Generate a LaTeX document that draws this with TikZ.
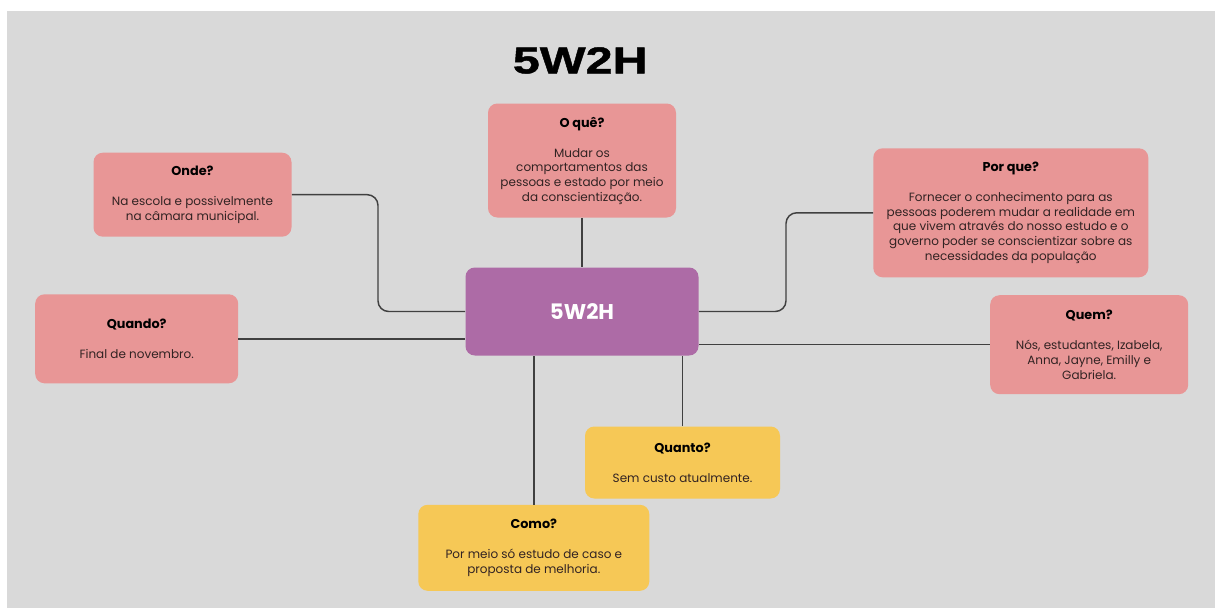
\documentclass[tikz,border=0pt]{standalone}
\usepackage{fontspec}
\setmainfont{Poppins}
\newfontfamily\titlefont[FakeStretch=1.3,FakeBold=1.2]{Liberation Sans}
\usepackage{xcolor}
\definecolor{canvasgray}{RGB}{217,217,217}
\definecolor{cardpink}{RGB}{232,150,150}
\definecolor{cardyellow}{RGB}{246,200,86}
\definecolor{hubpurple}{RGB}{173,107,166}
\definecolor{linkgray}{RGB}{64,64,64}
\definecolor{bodyink}{RGB}{50,35,35}
\newcommand{\cardhead}[1]{{\color{black}\bfseries\fontsize{9.6}{11}\selectfont #1}}

\begin{document}
\begin{tikzpicture}[x=0.75pt,y=0.75pt,yscale=-1,xscale=1,
  card/.style={rounded corners=7pt,inner sep=0pt,align=center,text=bodyink,
    font=\fontsize{9}{11}\selectfont},
  pinkcard/.style={card,fill=cardpink},
  yellowcard/.style={card,fill=cardyellow},
  link/.style={draw=linkgray,line width=1.1pt,rounded corners=8pt}]

\useasboundingbox (0,0) rectangle (1215,608);
\fill [white] (0,0) rectangle (1215,608);
\fill [canvasgray] (7,11) rectangle (1215,608);

\node [anchor=base] (title) at (580.3,73.3) {\titlefont\bfseries\fontsize{28}{30}\selectfont 5W2H};

\node [rounded corners=7pt,fill=hubpurple,minimum width=174.75pt,minimum height=66pt,text=white,
  font=\bfseries\fontsize{16}{18}\selectfont] (hub) at (582,311.5) {5W2H};

\node [pinkcard,minimum width=141pt,minimum height=85.5pt] (oque) at (582,160.5)
  {\cardhead{O quê?}\\[11.5pt]Mudar os\\comportamentos das\\pessoas e estado por meio\\da conscientização.};

\node [pinkcard,minimum width=148.5pt,minimum height=63pt] (onde) at (192.5,194.7)
  {\cardhead{Onde?}\\[11.5pt]Na escola e possivelmente\\na câmara municipal.};

\node [pinkcard,minimum width=206.25pt,minimum height=96.75pt] (porque) at (1010.8,212.8)
  {\cardhead{Por que?}\\[11.5pt]Fornecer o conhecimento para as\\pessoas poderem mudar a realidade em\\que vivem através do nosso estudo e o\\governo poder se conscientizar sobre as\\necessidades da população};

\node [pinkcard,minimum width=152.25pt,minimum height=66.75pt] (quando) at (136.7,338.8)
  {\cardhead{Quando?}\\[11.5pt]Final de novembro.};

\node [pinkcard,minimum width=148.5pt,minimum height=74.25pt] (quem) at (1089.2,344.7)
  {\cardhead{Quem?}\\[11.5pt]Nós, estudantes, Izabela,\\Anna, Jayne, Emilly e\\Gabriela.};

\node [yellowcard,minimum width=146.25pt,minimum height=54pt] (quanto) at (682.5,462.5)
  {\cardhead{Quanto?}\\[11.5pt]Sem custo atualmente.};

\node [yellowcard,minimum width=173.25pt,minimum height=64.5pt] (como) at (533.8,547.8)
  {\cardhead{Como?}\\[11.5pt]Por meio só estudo de caso e\\proposta de melhoria.};

\coordinate (ondebend) at (378,311.5);
\coordinate (porquebend) at (786,311.5);

\draw [link] (oque.south) -- (hub.north);
\draw [link] (onde.east) -| (ondebend) -- (hub.west);
\draw [link] (porque.west) -| (porquebend) -- (hub.east);
\draw [link] (quando.east) -- (quando.east -| hub.west);
\draw [link] (quem.west) -- (quem.west -| hub.east);
\draw [link] (quanto.north) -- (quanto.north |- hub.south);
\draw [link] (como.north) -- (como.north |- hub.south);

\end{tikzpicture}
\end{document}
